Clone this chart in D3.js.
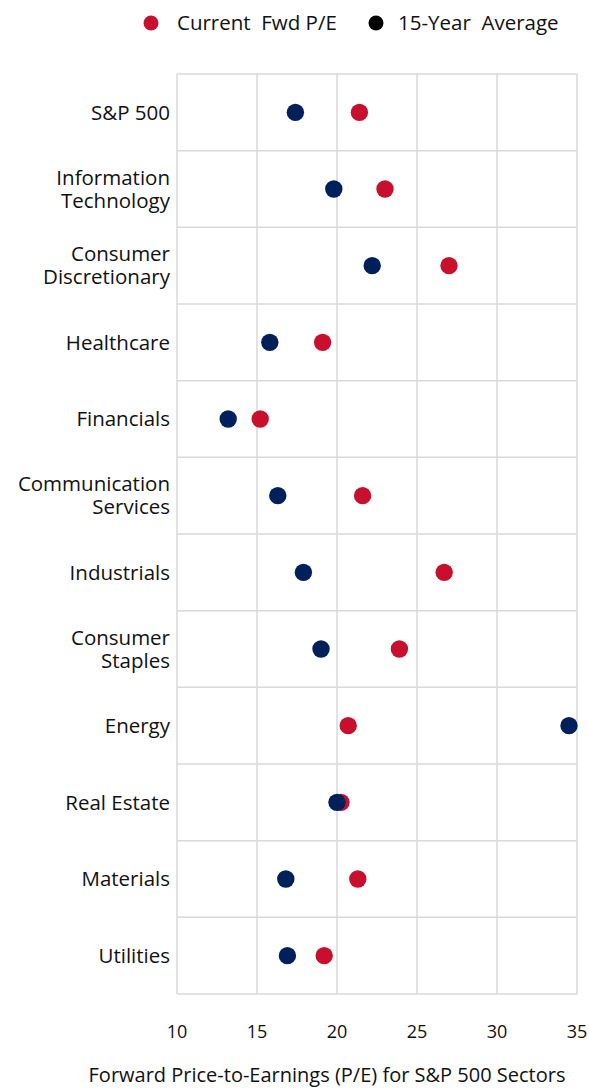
<!DOCTYPE html>
<html>
<head>
<meta charset="utf-8">
<script src="https://cdn.jsdelivr.net/npm/d3@7"></script>
<style>
  body { margin: 0; background: #fff; }
  text { font-family: "Open Sans", "Noto Sans", sans-serif; fill: #111; }
</style>
</head>
<body>
<svg id="chart" width="589" height="1089"></svg>
<script>
const sectors = [
  ["S&P 500"],
  ["Information", "Technology"],
  ["Consumer", "Discretionary"],
  ["Healthcare"],
  ["Financials"],
  ["Communication", "Services"],
  ["Industrials"],
  ["Consumer", "Staples"],
  ["Energy"],
  ["Real Estate"],
  ["Materials"],
  ["Utilities"]
];
const currentPE = [21.4, 23.0, 27.0, 19.1, 15.2, 21.6, 26.7, 23.9, 20.7, 20.25, 21.3, 19.2];
const averagePE = [17.4, 19.8, 22.2, 15.8, 13.2, 16.3, 17.9, 19.0, 34.5, 20.0, 16.8, 16.9];
const xTicks = [10, 15, 20, 25, 30, 35];

const red = "#c8102e";
const navy = "#00205b";
const grid = "#d9d9d9";

const svg = d3.select("#chart");

const x = d3.scaleLinear().domain([10, 35]).range([177, 577]);
const y = d3.scaleBand()
  .domain(d3.range(sectors.length))
  .range([74, 994]);

const root = svg.append("g");

// gridlines: vertical at ticks, horizontal at row boundaries
root.selectAll("line.v")
  .data(xTicks)
  .join("line")
  .attr("x1", d => x(d)).attr("x2", d => x(d))
  .attr("y1", y.range()[0]).attr("y2", y.range()[1])
  .attr("stroke", grid).attr("stroke-width", 1.5);

root.selectAll("line.h")
  .data(d3.range(sectors.length + 1))
  .join("line")
  .attr("x1", x(10)).attr("x2", x(35))
  .attr("y1", i => y.range()[0] + i * y.step())
  .attr("y2", i => y.range()[0] + i * y.step())
  .attr("stroke", grid).attr("stroke-width", 1.5);

// category labels, one text per line
const lineHeight = 23;
const catLines = sectors.flatMap((lines, i) =>
  lines.map((l, k) => ({
    text: l,
    cy: y(i) + y.bandwidth() / 2 + (k - (lines.length - 1) / 2) * lineHeight
  }))
);
root.selectAll("text.cat")
  .data(catLines)
  .join("text")
  .attr("class", "cat")
  .attr("text-anchor", "end")
  .attr("font-size", 20.5)
  .attr("x", x(10) - 7)
  .attr("y", d => d.cy)
  .attr("dy", "0.35em")
  .text(d => d.text);

// tick labels
root.selectAll("text.tick")
  .data(xTicks)
  .join("text")
  .attr("class", "tick")
  .attr("x", d => x(d))
  .attr("y", 1032)
  .attr("dy", "0.35em")
  .attr("text-anchor", "middle")
  .attr("font-size", 18)
  .text(d => d);

// axis title
root.append("text")
  .attr("x", 327)
  .attr("y", 1075)
  .attr("dy", "0.35em")
  .attr("text-anchor", "middle")
  .attr("font-size", 20)
  .text("Forward Price-to-Earnings (P/E) for S&P 500 Sectors");

// dots: current first, average on top
const r = 8.7;
root.selectAll("circle.cur")
  .data(currentPE)
  .join("circle")
  .attr("class", "cur")
  .attr("cx", d => x(d))
  .attr("cy", (d, i) => y(i) + y.bandwidth() / 2)
  .attr("r", r)
  .attr("fill", red);

root.selectAll("circle.avg")
  .data(averagePE)
  .join("circle")
  .attr("class", "avg")
  .attr("cx", d => x(d))
  .attr("cy", (d, i) => y(i) + y.bandwidth() / 2)
  .attr("r", r)
  .attr("fill", navy);

// legend
const legend = [
  { label: "Current  Fwd P/E", color: red, cx: 151, tx: 177 },
  { label: "15-Year  Average", color: "#000", cx: 376, tx: 398 }
];
const lg = root.selectAll("g.legend")
  .data(legend)
  .join("g")
  .attr("class", "legend");
lg.append("circle")
  .attr("cx", d => d.cx).attr("cy", 23).attr("r", 7.5)
  .attr("fill", d => d.color);
lg.append("text")
  .attr("x", d => d.tx).attr("y", 23).attr("dy", "0.35em")
  .attr("font-size", 20.5)
  .style("white-space", "pre")
  .text(d => d.label);
</script>
</body>
</html>
